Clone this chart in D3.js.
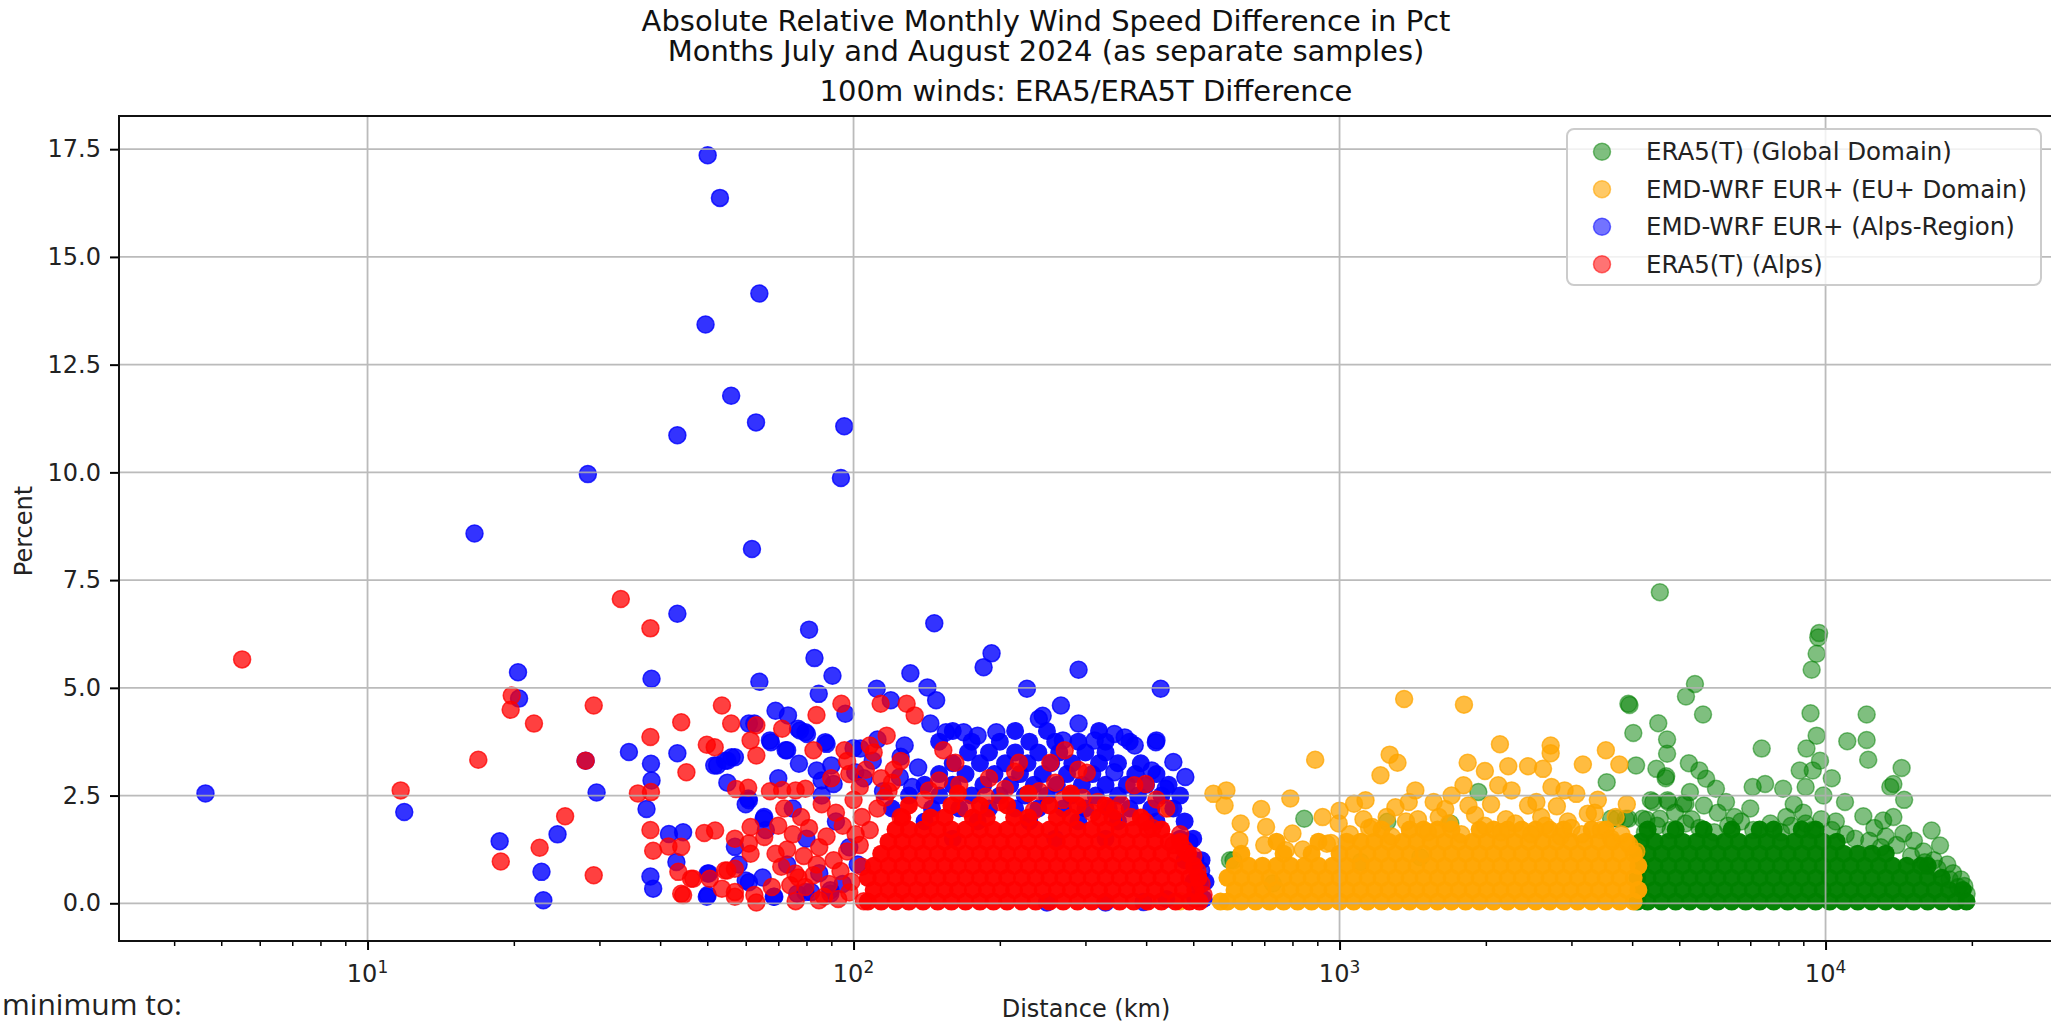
<!DOCTYPE html>
<html>
<head>
<meta charset="utf-8">
<script src="https://cdn.jsdelivr.net/npm/d3@7"></script>
<style>
  body { margin: 0; background: #fff; }
  svg { display: block; font-family: "DejaVu Sans", sans-serif; }
</style>
</head>
<body>
<script>
// ---- data (distance km, percent) ----
const seriesLabels = ["ERA5(T) (Global Domain)", "EMD-WRF EUR+ (EU+ Domain)", "EMD-WRF EUR+ (Alps-Region)", "ERA5(T) (Alps)"];
const seriesColors = ["#008000", "#ffa500", "#0000ff", "#ff0000"];

const yTicks = [0, 2.5, 5, 7.5, 10, 12.5, 15, 17.5];
const xTicks = [10, 100, 1000, 10000];
const xTickExp = ["1", "2", "3", "4"];
const xMinorTicks = [4,5,6,7,8,9,20,30,40,50,60,70,80,90,200,300,400,500,600,700,800,900,
  2000,3000,4000,5000,6000,7000,8000,9000,20000];

// scattered points, read one by one
const greenPoints = [[4561,7.22],[9660,6.17],[9700,6.27],[9587,5.79],[9363,5.42],[5386,5.09],[5162,4.80],[5596,4.38],
  [3929,4.63],[3950,4.60],[4527,4.18],[4022,3.95],[4720,3.80],[4720,3.47],[4075,3.20],[3546,2.81],[4487,3.12],[4688,2.90],
  [4700,2.95],[5233,3.25],[7390,3.59],[9313,4.41],[9587,3.89],[9135,3.59],[9740,3.31],[8848,3.08],[9412,3.08],[11085,3.76],
  [12150,4.38],[12150,3.79],[12240,3.33],[14340,3.14],[13790,2.77],[13590,2.70],[14510,2.40],[10965,2.35],[5500,3.08],
  [5680,2.89],[5950,2.66],[7080,2.70],[7510,2.77],[8180,2.66],[5260,2.58],[5100,2.31],[4750,2.35],[4420,2.35],[5620,2.27],
  [6240,2.35],[16530,1.69],[17200,1.34],[3720,1.96],[3930,1.96],[4280,1.94],[4560,1.96],[11960,2.02],[13140,1.92],
  [14460,1.62],[13790,2.0],[18750,0.38],[19510,0.22],[4370,2.39],[4730,2.39],[5150,2.31],[4200,1.96],[3620,1.96],
  [3880,1.96],[1930,2.58],[1254,1.89],[846,1.96],[1105,0.96],[1466,1.07],[595,1.0],[729,0.46],[1690,1.85],[605,1.0],
  [12600,1.75],[13300,1.55],[15200,1.45],[15900,1.2],[11000,1.6],[10500,1.9],[9000,2.1],[8300,2.0],[7000,2.2],[6500,2.0],
  [6000,2.1],[5300,1.95],[4900,2.1],[8600,2.3],[9900,2.5],[10300,2.9],[9100,2.7],[17800,0.9],[18300,0.7],[19000,0.55],[16700,1.0],
  [4250,1.65],[4500,1.8],[4800,1.7],[5150,1.85],[5500,1.75],[5900,1.65],[6300,1.8],[6700,1.9],[7100,1.7],[7700,1.85],
  [8100,1.65],[8500,1.8],[9100,1.85],[9400,1.7],[9800,1.95],[10300,1.7],[11500,1.5],[12300,1.45],[13000,1.3],[14000,1.35],
  [15000,1.1],[16000,0.95],[17000,0.8],[18000,0.55],[19300,0.4]];

const orangePoints = [[1358,4.74],[1803,4.61],[891,3.33],[1268,3.45],[1316,3.26],[1214,2.97],[2138,3.69],[2719,3.66],
  [2719,3.48],[3532,3.55],[3167,3.22],[3765,3.22],[1835,3.26],[1991,3.07],[2224,3.18],[2443,3.18],[2622,3.12],[550,2.54],
  [585,2.62],[580,2.27],[792,2.43],[690,2.19],[706,1.77],[626,1.85],[622,1.46],[1071,2.31],[1131,2.39],[1303,2.23],
  [1388,2.35],[1432,2.62],[1562,2.35],[1650,2.19],[1799,2.74],[1842,2.27],[2121,2.74],[2259,2.62],[2443,2.27],[2541,2.35],
  [2729,2.70],[2904,2.62],[3070,2.54],[3243,2.08],[923,2.0],[996,1.85],[1167,1.77],[800,1.62],[775,1.23],[942,1.38],
  [447,2.2],[495,1.0],[470,0.05],[1450,1.95],[1600,2.0],[1900,2.05],[2200,1.95],[2600,2.0],[2950,1.9],[3350,2.1],
  [3700,2.0],[2050,2.3],[1250,2.0],[1120,1.95],[2800,2.25],[3400,2.4],[3900,2.3],[1700,2.5],[1000,2.15],
  [1050,1.6],[1150,1.75],[1280,1.55],[1370,1.9],[1520,1.65],[1680,1.85],[1780,1.6],[1990,1.8],[2150,1.65],[2300,1.85],
  [2480,1.6],[2650,1.8],[2850,1.55],[3000,1.75],[3150,1.6],[3450,1.7],[3620,1.5],[3800,1.6],[3950,1.35],[4080,1.2],
  [700,1.35],[840,1.25],[960,1.4]];

const bluePoints = [[4.64,2.55],[11.9,2.12],[16.6,8.58],[18.7,1.44],[20.4,5.36],[20.5,4.75],[22.8,0.73],[23.0,0.07],
  [24.6,1.60],[28.4,9.96],[29.6,2.57],[28.1,3.31],[34.5,3.51],[38.4,5.21],[38.3,3.24],[38.4,2.85],[37.5,2.19],[38.2,0.62],
  [38.7,0.34],[43.4,10.86],[43.4,6.72],[49.6,13.43],[50.1,17.36],[53.1,16.37],[56.0,11.78],[61.8,8.22],[63.0,11.16],
  [64.0,14.15],[64.0,5.14],[81.0,6.35],[83.1,5.69],[90.5,5.28],[94.2,9.87],[95.7,11.07],
  [41.7,1.61],[44.6,1.65],[43.2,0.96],[50.1,0.69],[50.1,0.19],[43.4,3.48],[51.7,3.2],[55.0,3.31],[56.1,3.39],[60.9,4.17],
  [67.6,3.74],[73.0,3.55],[69.1,4.47],[73.3,4.36],[77.6,4.01],[80.2,3.93],[84.8,4.86],[88.0,3.70],[77.2,3.24],[84.0,3.08],
  [86.0,2.85],[91.0,2.77],[65.3,1.96],[60.9,2.39],[57.0,1.31],[60.9,0.49],[68.5,0.15],[76.6,0.22],[81.8,0.26],[89.6,0.30],
  [146.6,6.50],[130.9,5.34],[192.3,5.80],[185.2,5.48],[290.4,5.42],[111.6,4.98],[141.9,5.01],[147.9,4.71],[119.3,4.71],
  [227.4,4.98],[267.1,4.59],[428.5,4.98],[96.2,4.40],[240.6,4.28],[245,4.35],[143.9,4.17],[154.9,3.97],[168.5,3.97],
  [180.0,3.89],[196.7,3.97],[290.4,4.17],[344.2,3.93],[361.4,3.85],[378.9,3.66],[313.4,3.78],[269.7,3.78],[418.8,3.74],
  [420,3.78],[455,3.28],[481.6,2.93],[410.8,3.08],[438.5,2.66],[344,3.04],[491,1.42],[519,0.76],[127.4,3.66],[135.8,3.15],
  [124.5,2.93],[100.8,3.04],[109.5,3.31],[103.3,3.59],[87.5,3.74],[79.6,3.97],[76.9,4.05],[72.5,3.55],[67.3,3.78],
  [62.5,4.17],[57.0,3.39],[52.4,3.20],[54.4,3.31],[50.4,0.69],[49.9,0.15],[65.5,2.0],[60.7,2.43],[60.0,0.53],[68.7,0.15],
  [79.6,0.26],[89.6,0.22],[55,2.8],[60,2.3],[66,1.7],[70,2.9],[75,2.2],[80,1.5],[86,2.5],[92,1.9],[98,1.3],[73,0.9],
  [85,0.7],[95,0.45],[102,0.9],[65,0.6],[58,0.9],[90,3.2],[100,3.6],[105,2.9],[115,2.6],[125,3.4],[132,2.7],[112,3.8],
  [330,0.02],[395,0.03],[250,0.02]];

const redPoints = [[5.52,5.66],[11.7,2.62],[16.9,3.33],[18.8,0.97],[19.8,4.82],[19.7,4.49],[22.0,4.17],[22.6,1.29],
  [25.5,2.02],[28.1,3.31],[29.2,4.59],[29.2,0.65],[33.2,7.06],[38.2,6.38],[38.2,3.86],[36.0,2.55],[38.3,2.58],[38.2,1.70],
  [38.7,1.22],[41.6,1.32],[44.2,4.20],[44.2,1.31],[45.3,3.04],[49.9,3.68],[51.8,3.62],[53.6,4.59],[56.0,4.17],[49.3,1.63],
  [51.9,1.69],[44.6,0.19],[46.3,0.57],[43.6,0.73],[50.6,0.57],[54.4,0.76],[57.0,0.80],[57.0,0.26],[62.5,0.19],[63.1,0.02],
  [67.9,0.38],[61.4,1.77],[65.5,1.54],[69.1,1.15],[61.4,1.15],[57.0,1.50],[63.1,4.13],[71.3,4.05],[83.9,4.37],[94.4,4.63],
  [61.4,3.78],[63.1,3.43],[95.8,3.55],[82.7,3.55],[57.3,2.65],[60.7,2.68],[67.3,2.60],[71.3,2.63],[76.0,2.62],[79.6,2.66],
  [84.9,0.07],[74.1,0.42],[79.6,0.38],[75.9,0.69],[82.7,0.65],[44.2,0.22],[57.0,0.15],[60.9,1.39],[55.0,0.76],[46.8,0.57],
  [53.6,0.34],[72,2.2],[78,2.0],[86,2.3],[92,2.1],[100,2.4],[104,2.0],[70,1.8],[75,1.6],[81,1.75],[88,1.55],[95,1.8],
  [101,1.6],[73,1.25],[79,1.1],[85,1.3],[91,1.0],[97,1.2],[103,1.35],[71,0.85],[77,0.6],[84,0.9],[89,0.45],[94,0.75],
  [99,0.5],[104,0.85],[87,0.15],[93,0.1],[98,0.25],[105,0.05],[76,0.05],[98,3.0],[103,2.7],[90,2.9],[97,3.3],[106,3.1],
  [110,3.5],[108,3.66],[113.7,4.63],[117,3.89],[128.6,4.63],[133.6,4.36],[112,2.2],[118,2.6],[125,2.0],[108,1.7],
  [114,2.9],[121,3.1],[150,2.85],[190,2.9],[215,3.05],[254,3.26],[272,3.55],[290,3.1],[302,3.03],[219,3.26],[162,3.26],
  [153,3.55],[378,2.74],[399,2.77],[420,2.41],[440,2.2],[470,1.6],[120,2.8],[125,3.3],
  [116,2.45],[143,2.62],[187,2.48],[241,2.6],[296,2.45],[318,2.35],[345,2.15],[372,2.0],[398,1.9],[412,1.75],
  [455,1.35],[480,1.25],[500,1.1],[510,0.75],[520,0.45],[525,0.2],
  [140,2.4],[170,2.2],[200,2.35],[235,2.15],[270,2.4],[310,2.1],[355,2.3],[165,2.75],[260,2.8],[205,2.65]];

// packed clusters: [percent, [distances...]]
const greenRows = [
  [0.04, [4100,4305,4600,4916,5253,5614,5999,6410,6850,7320,7822,8359,8932,9545,10200,10900,11648,12447,13301,14213,15188,16230,17343,18533,19500]],
  [0.31, [4165,4450,4755,5082,5430,5803,6201,6627,7081,7567,8086,8641,9234,9867,10544,11268,12041,12867,13750,14693,15701,16778,17929,19159]],
  [0.59, [4100,4305,4600,4916,5253,5614,5999,6410,6850,7320,7822,8359,8932,9545,10200,10900,11648,12447,13301,14213,15188,16230,17343]],
  [0.87, [4165,4450,4755,5082,5430,5803,6201,6627,7081,7567,8086,8641,9234,9867,10544,11268,12041,12867,13750,14693,15701,16230]],
  [1.15, [4100,4305,4600,4916,5253,5614,5999,6410,6850,7320,7822,8359,8932,9545,10200,10900,11648,12447,13301]],
  [1.43, [4165,4450,4755,5082,5430,5803,6201,6627,7081,7567,8086,8641,9234,9867,10544]],
  [1.71, [4305,4916,5614,6410,7320,7822,8932,9545]]
];
const orangeRows = [
  [0.04, [569,588,628,672,718,767,820,876,936,1000,1069,1142,1220,1304,1394,1489,1591,1700,1817,1942,2075,2217,2370,2532,2706,2892,3090,3302,3528,3770,4029]],
  [0.31, [608,650,694,742,793,847,905,967,1034,1105,1180,1261,1348,1440,1539,1645,1758,1878,2007,2145,2292,2449,2617,2797,2989,3194,3413,3647,3897,4120]],
  [0.59, [588,628,672,718,767,820,876,936,1000,1069,1142,1220,1304,1394,1489,1591,1700,1817,1942,2075,2217,2370,2532,2706,2892,3090,3302,3528,3770,4029]],
  [0.87, [608,650,694,742,793,847,905,967,1034,1105,1180,1261,1348,1440,1539,1645,1758,1878,2007,2145,2292,2449,2617,2797,2989,3194,3413,3647,3897,4120]],
  [1.15, [628,767,876,1000,1069,1142,1220,1304,1394,1489,1591,1700,1817,1942,2075,2217,2370,2532,2706,2892,3090,3302,3528,3770,4029]],
  [1.43, [742,905,1034,1105,1180,1261,1348,1440,1539,1645,1758,1878,2007,2145,2292,2449,2617,2797,2989,3194,3413,3647,3897]],
  [1.71, [1220,1394,1489,1591,1700,1942,2075,2217,2370,2532,2706,2892,3302,3528]]
];
const blueRows = [
  [4.0, [160,215,250,320]],
  [3.75, [150,175,200,230,260,290,330,370]],
  [3.5, [172,190,215,240,265,300,330]],
  [3.25, [160,182,205,228,255,282,320,350,390]],
  [3.0, [150,170,195,220,245,275,310,380,420]],
  [2.75, [140,160,185,210,235,262,295,330,365,400,445]],
  [2.5, [130,150,175,200,225,250,280,315,350,385,430,470]],
  [2.2, [120,145,165,190,215,240,270,300,335,370,410,455]],
  [1.9, [140,180,230,290,350,420,480]],
  [1.5, [160,260,330,470,500]],
  [1.0, [480,505,520]],
  [0.5, [500,515,530]],
  [0.1, [440,505,525]]
];
const redRows = [
  [0.04, [107,114,122,130,139,149,159,170,182,194,207,222,237,253,270,289,309,330,353,377,403,430,460,491,515]],
  [0.31, [110,118,126,135,144,154,164,176,188,201,214,229,245,262,280,299,320,341,365,390,417,445,476,505]],
  [0.59, [107,114,122,130,139,149,159,170,182,194,207,222,237,253,270,289,309,330,353,377,403,430,460,491,513]],
  [0.87, [110,118,126,135,144,154,164,176,188,201,214,229,245,262,280,299,320,341,365,390,417,445,476,502]],
  [1.15, [114,122,130,139,149,159,170,182,194,207,222,237,253,270,289,309,330,353,377,403,430,460,488]],
  [1.43, [118,126,135,144,154,164,176,188,201,214,229,245,262,280,299,320,341,365,390,417,445,470]],
  [1.71, [122,130,139,149,159,170,182,194,207,222,237,253,270,289,309,330,353,377,403,430]],
  [1.99, [126,144,154,176,188,214,229,262,280,320,341,390]],
  [2.27, [130,159,182,207,253,289,330]],
  [2.55, [164,229,280]]
];

// ---- layout ----
const W = 2051, H = 1026;
const plotL = 119, plotR = 2053, plotT = 116, plotB = 941;

const svg = d3.select("body").append("svg")
  .attr("width", W).attr("height", H);

const x = d3.scaleLog()
  .domain([Math.pow(10, 0.4886), Math.pow(10, 4.468)])
  .range([plotL, plotR]);
const y = d3.scaleLinear()
  .domain([-0.875, 18.27])
  .range([plotB, plotT]);

svg.append("defs").append("clipPath").attr("id", "plotclip")
  .append("rect").attr("x", plotL).attr("y", plotT)
  .attr("width", plotR - plotL).attr("height", plotB - plotT);

const flat = rows => rows.flatMap(([p, kms]) => kms.map(k => [k, p]));

// a: alpha of single dots, ac: alpha of the packed cluster, la: legend marker alpha
const series = [
  { pts: greenPoints, rows: greenRows, a: 0.5, ac: 0.97, la: 0.5 },
  { pts: orangePoints, rows: orangeRows, a: 0.75, ac: 0.97, la: 0.6 },
  { pts: bluePoints, rows: blueRows, a: 0.8, ac: 0.92, la: 0.55 },
  { pts: redPoints, rows: redRows, a: 0.75, ac: 0.97, la: 0.55 }
];

const dots = svg.append("g").attr("clip-path", "url(#plotclip)");
series.forEach(function(s, i) {
  const g = dots.append("g");
  g.selectAll(null)
    .data(flat(s.rows))
    .enter().append("circle")
    .attr("cx", d => x(d[0]))
    .attr("cy", d => y(d[1]))
    .attr("r", 9)
    .attr("fill", seriesColors[i])
    .attr("fill-opacity", s.ac);
  g.selectAll(null)
    .data(s.pts)
    .enter().append("circle")
    .attr("cx", d => x(d[0]))
    .attr("cy", d => y(d[1]))
    .attr("r", 8.5)
    .attr("fill", seriesColors[i])
    .attr("fill-opacity", s.a)
    .attr("stroke", seriesColors[i])
    .attr("stroke-opacity", s.a)
    .attr("stroke-width", 1.5);
});

// grid over the points, like matplotlib's default zorder
const grid = svg.append("g").attr("stroke", "#b0b0b0").attr("stroke-width", 1.8).attr("opacity", 0.85);
grid.selectAll(".gx").data(xTicks).enter().append("line")
  .attr("x1", d => x(d)).attr("x2", d => x(d))
  .attr("y1", plotT).attr("y2", plotB);
grid.selectAll(".gy").data(yTicks).enter().append("line")
  .attr("x1", plotL).attr("x2", plotR)
  .attr("y1", d => y(d)).attr("y2", d => y(d));

// axes
const yAxis = svg.append("g")
  .attr("transform", "translate(" + plotL + ",0)")
  .call(d3.axisLeft(y).tickValues(yTicks).tickFormat(d3.format(".1f")).tickSize(9).tickPadding(9));
yAxis.select(".domain").remove();
yAxis.selectAll("line").attr("stroke-width", 2);
yAxis.selectAll("text").attr("font-size", 24).attr("font-family", "DejaVu Sans").attr("fill", "#222");

const xAxis = svg.append("g")
  .attr("transform", "translate(0," + plotB + ")")
  .call(d3.axisBottom(x).tickValues(xTicks).tickFormat("").tickSize(9));
xAxis.select(".domain").remove();
xAxis.selectAll("line").attr("stroke-width", 2);

const xMinor = svg.append("g")
  .attr("transform", "translate(0," + plotB + ")")
  .call(d3.axisBottom(x).tickValues(xMinorTicks).tickFormat("").tickSize(5));
xMinor.select(".domain").remove();
xMinor.selectAll("line").attr("stroke-width", 1.5);

const xl = svg.append("g").selectAll("text").data(xTicks).enter().append("text")
  .attr("x", d => x(d)).attr("y", 982)
  .attr("text-anchor", "middle").attr("font-size", 24).attr("fill", "#222");
xl.append("tspan").text("10");
xl.append("tspan").attr("dy", -9).attr("font-size", 17).text((d, i) => xTickExp[i]);

// frame
svg.append("rect")
  .attr("x", plotL).attr("y", plotT)
  .attr("width", plotR - plotL).attr("height", plotB - plotT)
  .attr("fill", "none").attr("stroke", "#111").attr("stroke-width", 2);

// labels
svg.append("text").attr("x", 1086).attr("y", 1017).attr("text-anchor", "middle")
  .attr("font-size", 24).attr("fill", "#222").text("Distance (km)");
svg.append("text").attr("transform", "translate(32,531) rotate(-90)").attr("text-anchor", "middle")
  .attr("font-size", 24).attr("fill", "#222").text("Percent");

const sup = svg.append("text").attr("text-anchor", "middle").attr("font-size", 29).attr("fill", "#111");
sup.append("tspan").attr("x", 1046).attr("y", 31).text("Absolute Relative Monthly Wind Speed Difference in Pct");
sup.append("tspan").attr("x", 1046).attr("y", 61).text("Months July and August 2024 (as separate samples)");
svg.append("text").attr("x", 1086).attr("y", 101).attr("text-anchor", "middle")
  .attr("font-size", 29).attr("fill", "#111").text("100m winds: ERA5/ERA5T Difference");

// legend
const lg = svg.append("g");
lg.append("rect").attr("x", 1567).attr("y", 129).attr("width", 474).attr("height", 156)
  .attr("rx", 7).attr("fill", "#fff").attr("fill-opacity", 0.8)
  .attr("stroke", "#cccccc").attr("stroke-width", 2);
const legendRowY = [151.7, 189.2, 226.7, 264.3];
const li = lg.selectAll(".li").data(seriesLabels).enter().append("g")
  .attr("transform", (d, i) => "translate(0," + legendRowY[i] + ")");
li.append("circle").attr("cx", 1602).attr("cy", 0).attr("r", 8.5)
  .attr("fill", (d, i) => seriesColors[i])
  .attr("fill-opacity", (d, i) => series[i].la)
  .attr("stroke", (d, i) => seriesColors[i])
  .attr("stroke-opacity", (d, i) => series[i].la)
  .attr("stroke-width", 1.5);
li.append("text").attr("x", 1646).attr("y", 8.5)
  .attr("font-size", 24.5).attr("fill", "#222").text(d => d);

// stray caption text at the bottom-left of the screenshot
svg.append("text").attr("x", 2).attr("y", 1015)
  .attr("font-family", "Open Sans").attr("font-size", 30)
  .attr("textLength", 180).attr("lengthAdjust", "spacing")
  .attr("fill", "#222").text("minimum to:");
</script>
</body>
</html>
